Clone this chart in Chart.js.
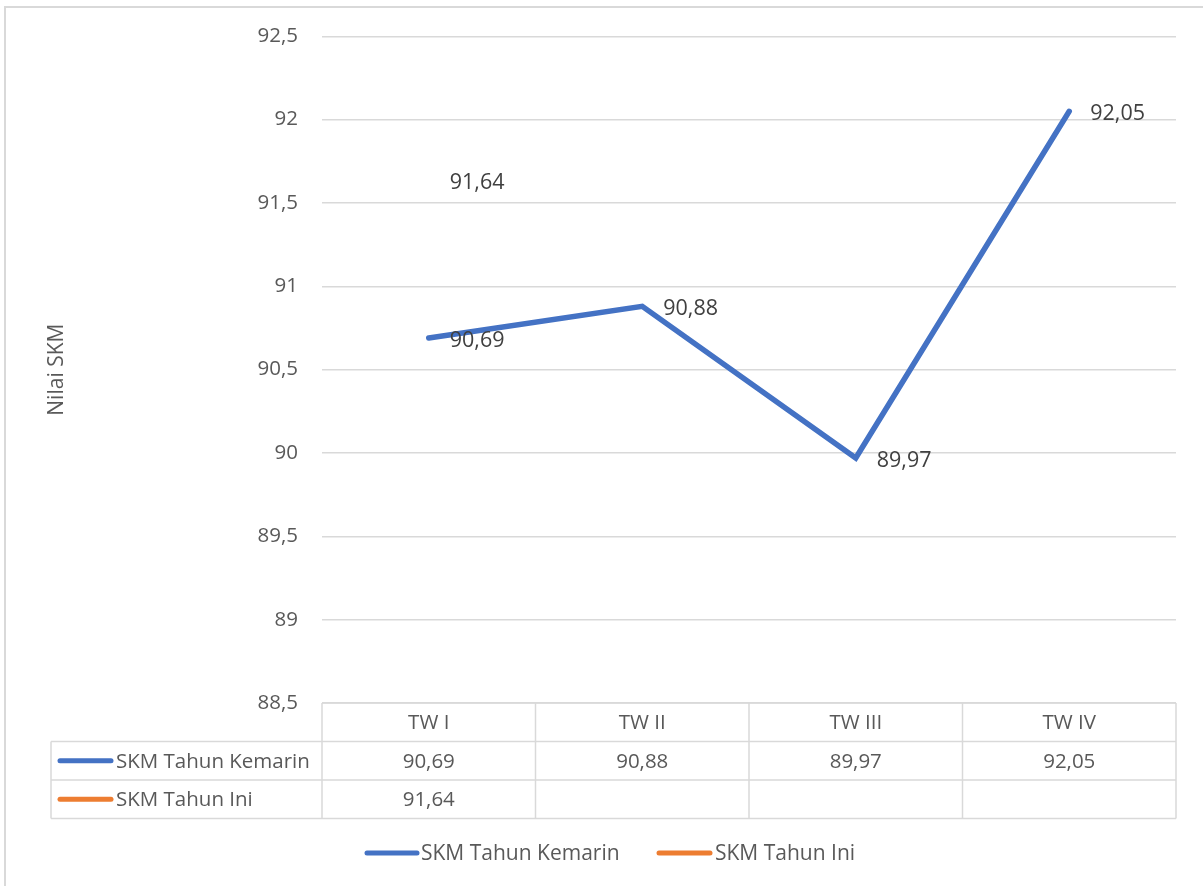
<!DOCTYPE html>
<html>
<head>
<meta charset="utf-8">
<script src="https://cdn.jsdelivr.net/npm/chart.js@4/dist/chart.umd.min.js"></script>
<style>
  html, body { margin: 0; padding: 0; background: #ffffff; }
  #wrap { position: relative; width: 1203px; height: 886px; }
</style>
</head>
<body>
<div id="wrap"><canvas id="c"></canvas></div>
<script>
// Quarterly satisfaction index (SKM)
const categories = ['TW I', 'TW II', 'TW III', 'TW IV'];
const skmTahunKemarin = [90.69, 90.88, 89.97, 92.05];
const skmTahunIni = [91.64, null, null, null];
const seriesNames = ['SKM Tahun Kemarin', 'SKM Tahun Ini'];
const yTicks = [88.5, 89, 89.5, 90, 90.5, 91, 91.5, 92, 92.5];

const BLUE = '#4472C4';
const ORANGE = '#ED7D31';
const GRID = '#d9d9d9';
const TEXT = '#595959';
const LABEL = '#404040';
const FONT = '"Open Sans", "Noto Sans", sans-serif';
const FS = 20.5;

const fmt = v => v.toFixed(2).replace('.', ',');
const fmtTick = v => String(v).replace('.', ',');

function keyLine(ctx, x1, x2, y, color) {
  ctx.save();
  ctx.strokeStyle = color;
  ctx.lineWidth = 5;
  ctx.lineCap = 'round';
  ctx.beginPath();
  ctx.moveTo(x1, y);
  ctx.lineTo(x2, y);
  ctx.stroke();
  ctx.restore();
}

// Value labels to the right of each point
const valueLabels = {
  id: 'valueLabels',
  afterDatasetsDraw(chart) {
    const ctx = chart.ctx;
    ctx.save();
    ctx.font = '21.5px ' + FONT;
    ctx.fillStyle = LABEL;
    ctx.textAlign = 'left';
    ctx.textBaseline = 'middle';
    chart.data.datasets.forEach((ds, di) => {
      const meta = chart.getDatasetMeta(di);
      meta.data.forEach((pt, i) => {
        const v = ds.data[i];
        if (v === null || v === undefined) return;
        ctx.fillText(fmt(v), pt.x + 21, pt.y + 3);
      });
    });
    ctx.restore();
  }
};

// Data table under the plot, legend and outer frame
const dataTable = {
  id: 'dataTable',
  afterDraw(chart) {
    const ctx = chart.ctx;
    const xs = chart.scales.x;
    const area = chart.chartArea;
    const n = categories.length;
    const colW = (xs.right - xs.left) / n;
    const top = area.bottom;
    const rowH = 38.5;
    const tableLeft = 51;
    const rows = [top, top + rowH, top + rowH * 2, top + rowH * 3];

    ctx.save();
    ctx.strokeStyle = GRID;
    ctx.lineWidth = 1.5;
    ctx.beginPath();
    // horizontal rules
    ctx.moveTo(xs.left, rows[0]); ctx.lineTo(xs.right, rows[0]);
    for (let r = 1; r < rows.length; r++) {
      ctx.moveTo(tableLeft, rows[r]); ctx.lineTo(xs.right, rows[r]);
    }
    // vertical rules
    for (let c = 0; c <= n; c++) {
      const x = xs.left + c * colW;
      ctx.moveTo(x, rows[0]); ctx.lineTo(x, rows[3]);
    }
    ctx.moveTo(tableLeft, rows[1]); ctx.lineTo(tableLeft, rows[3]);
    ctx.stroke();

    ctx.font = FS + 'px ' + FONT;
    ctx.fillStyle = TEXT;
    ctx.textBaseline = 'middle';
    ctx.textAlign = 'center';
    categories.forEach((cat, i) => {
      const cx = xs.getPixelForValue(i);
      ctx.fillText(cat, cx, (rows[0] + rows[1]) / 2 + 1);
      if (skmTahunKemarin[i] !== null) ctx.fillText(fmt(skmTahunKemarin[i]), cx, (rows[1] + rows[2]) / 2 + 1);
      if (skmTahunIni[i] !== null) ctx.fillText(fmt(skmTahunIni[i]), cx, (rows[2] + rows[3]) / 2 + 1);
    });

    const colors = [BLUE, ORANGE];
    ctx.textAlign = 'left';
    for (let s = 0; s < 2; s++) {
      const cy = (rows[s + 1] + rows[s + 2]) / 2;
      keyLine(ctx, 60, 111, cy, colors[s]);
      ctx.fillStyle = TEXT;
      ctx.fillText(seriesNames[s], 116, cy + 1);
    }

    // legend
    const ly = 853;
    ctx.font = '21px ' + FONT;
    keyLine(ctx, 367, 417, ly, BLUE);
    ctx.fillStyle = TEXT;
    ctx.fillText(seriesNames[0], 421, ly + 1);
    keyLine(ctx, 659, 710, ly, ORANGE);
    ctx.fillStyle = TEXT;
    ctx.fillText(seriesNames[1], 715, ly + 1);

    // outer frame
    ctx.strokeStyle = GRID;
    ctx.lineWidth = 2;
    ctx.strokeRect(5, 7, 1400, 1000);
    ctx.restore();
  }
};

new Chart(document.getElementById('c'), {
  type: 'line',
  data: {
    labels: categories,
    datasets: [
      {
        label: seriesNames[0],
        data: skmTahunKemarin,
        borderColor: BLUE,
        backgroundColor: BLUE,
        borderWidth: 5.5,
        borderCapStyle: 'round',
        borderJoinStyle: 'miter',
        pointRadius: 0,
        tension: 0
      },
      {
        label: seriesNames[1],
        data: skmTahunIni,
        borderColor: ORANGE,
        backgroundColor: ORANGE,
        borderWidth: 5.5,
        pointRadius: 0,
        tension: 0
      }
    ]
  },
  options: {
    responsive: true,
    maintainAspectRatio: false,
    animation: false,
    layout: { padding: { left: 42, right: 27, top: 36, bottom: 183 } },
    plugins: {
      legend: { display: false },
      tooltip: { enabled: false }
    },
    scales: {
      x: {
        type: 'category',
        offset: true,
        afterFit(scale) { scale.height = 0; },
        ticks: { display: false },
        grid: { display: false },
        border: { display: false }
      },
      y: {
        min: yTicks[0],
        max: yTicks[yTicks.length - 1],
        afterFit(scale) { scale.width = 280; },
        afterBuildTicks(scale) { scale.ticks = yTicks.map(v => ({ value: v })); },
        ticks: {
          padding: 24,
          color: TEXT,
          font: { family: FONT, size: FS },
          callback: v => fmtTick(v)
        },
        grid: { color: GRID, lineWidth: 1.5, drawTicks: false },
        border: { display: false },
        title: {
          display: true,
          text: 'Nilai SKM',
          color: TEXT,
          font: { family: FONT, size: 21 },
          padding: { top: 2, bottom: 0 }
        }
      }
    }
  },
  plugins: [valueLabels, dataTable]
});
</script>
</body>
</html>
